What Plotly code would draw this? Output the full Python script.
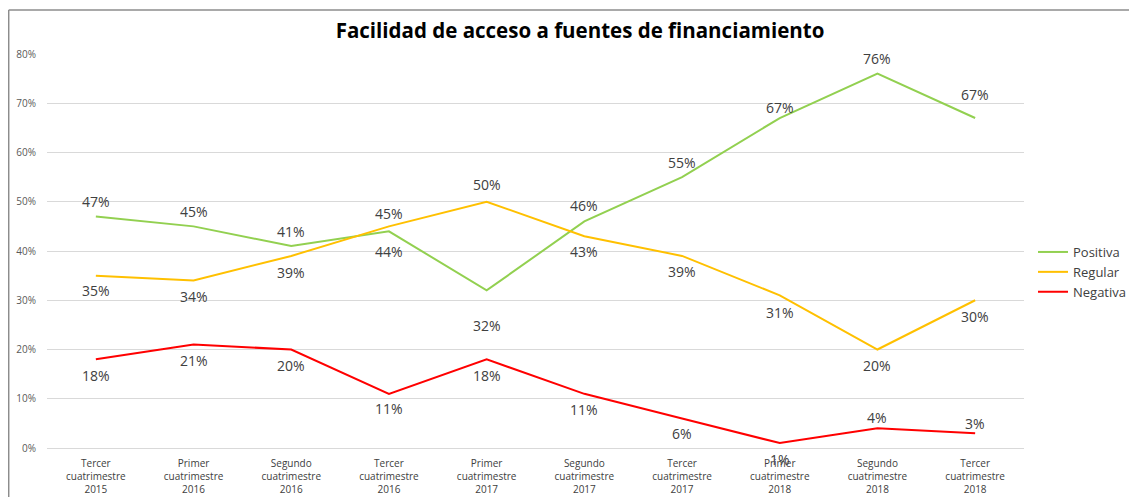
import plotly.graph_objects as go

categorias = [
    "Tercer<br>cuatrimestre<br>2015", "Primer<br>cuatrimestre<br>2016", "Segundo<br>cuatrimestre<br>2016",
    "Tercer<br>cuatrimestre<br>2016", "Primer<br>cuatrimestre<br>2017", "Segundo<br>cuatrimestre<br>2017",
    "Tercer<br>cuatrimestre<br>2017", "Primer<br>cuatrimestre<br>2018", "Segundo<br>cuatrimestre<br>2018",
    "Tercer<br>cuatrimestre<br>2018",
]
positiva = [47, 45, 41, 44, 32, 46, 55, 67, 76, 67]
regular = [35, 34, 39, 45, 50, 43, 39, 31, 20, 30]
negativa = [18, 21, 20, 11, 18, 11, 6, 1, 4, 3]

series = [
    ("Positiva", positiva, "#92d050", [15, 15, 15, -20, -35, 16, 15, 11, 15, 24]),
    ("Regular", regular, "#ffc000", [-15, -16, -17, 13, 17, -15, -16, -17, -16, -16]),
    ("Negativa", negativa, "#ff0000", [-16, -16, -16, -15, -16, -16, -15, -16, 11, 10]),
]

FONT = "Open Sans"
fig = go.Figure()
annotations = []
for name, vals, color, offs in series:
    fig.add_trace(go.Scatter(
        x=list(range(len(categorias))), y=vals, mode="lines", name=name,
        line=dict(color=color, width=2), hoverinfo="skip",
    ))
    for i, v in enumerate(vals):
        annotations.append(dict(
            x=i, y=v, xref="x", yref="y", text=f"{v}%", showarrow=False,
            yshift=offs[i], font=dict(family=FONT, size=14, color="#404040"),
        ))

# page has an 8px body margin: figure coordinates = page coordinates - 8
OFF = 8
W, H = 1137 - OFF, 497 - OFF
L, T = 47 - OFF, 54 - OFF
R = W - (1024 - OFF)
B = H - (448 - OFF)
pw, ph = W - L - R, H - T - B
def px(x):
    return (x - OFF - L) / pw
def py(y):
    return (H - B - (y - OFF)) / ph

shapes = [
    dict(type="line", xref="paper", yref="paper", x0=px(8.7), x1=px(1140), y0=py(10), y1=py(10),
         line=dict(color="#8c8c8c", width=1.5)),
    dict(type="line", xref="paper", yref="paper", x0=px(8.7), x1=px(8.7), y0=py(10), y1=py(500),
         line=dict(color="#8c8c8c", width=1.5)),
]

fig.update_layout(
    width=W, height=H,
    margin=dict(l=L, r=R, t=T, b=B, autoexpand=False),
    paper_bgcolor="white", plot_bgcolor="white",
    title=dict(text="<b>Facilidad de acceso a fuentes de financiamiento</b>",
               x=px(580), xref="paper", xanchor="center", y=1 - (31 - OFF) / H, yanchor="middle",
               font=dict(family=FONT, size=20.5, color="#000000")),
    xaxis=dict(
        tickmode="array", tickvals=list(range(len(categorias))), ticktext=categorias,
        range=[-0.5, len(categorias) - 0.5], showgrid=False, showline=True,
        linecolor="#d9d9d9", linewidth=1, zeroline=False, automargin=False,
        tickfont=dict(family=FONT, size=10, color="#404040"), ticks="", ticklabelstandoff=6,
    ),
    yaxis=dict(
        range=[0, 80], dtick=10, ticksuffix="%", showgrid=True, gridcolor="#d9d9d9", gridwidth=1,
        zeroline=False, showline=False, ticks="", automargin=False,
        tickfont=dict(family=FONT, size=10, color="#595959"), ticklabelstandoff=10,
    ),
    legend=dict(x=px(1033), xanchor="left", y=py(272), yanchor="middle",
                font=dict(family=FONT, size=13, color="#404040"), itemwidth=30,
                tracegroupgap=0, bgcolor="rgba(0,0,0,0)"),
    annotations=annotations,
    shapes=shapes,
    showlegend=True,
)

fig.write_html("out.html")
